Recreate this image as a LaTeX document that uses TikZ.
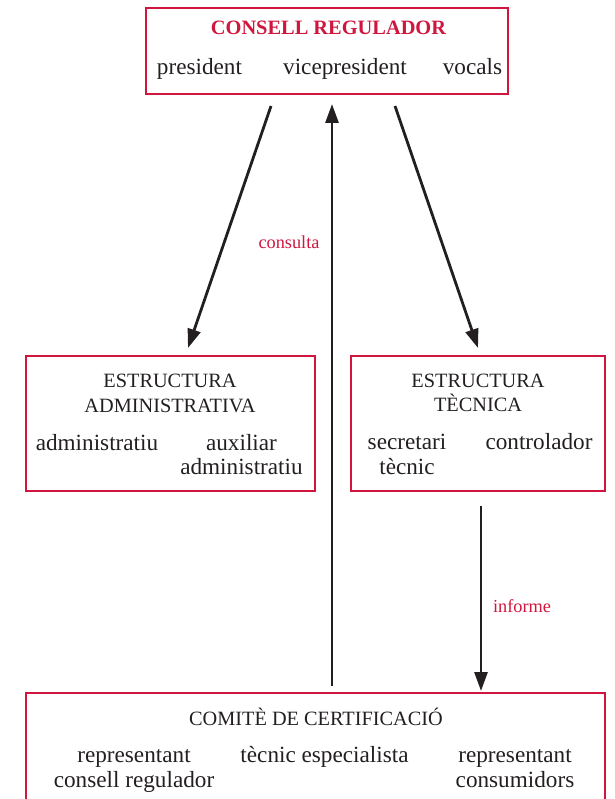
\documentclass[tikz,border=0pt]{standalone}
\usepackage{fontspec}
\setmainfont{Liberation Serif}
\usetikzlibrary{arrows.meta}
\definecolor{cred}{RGB}{208,22,62}
\definecolor{ctext}{RGB}{35,31,32}
\tikzset{
  box/.style={draw=cred, line width=2.6pt, rectangle, inner sep=0pt},
  body/.style={anchor=base, inner sep=0pt, text=ctext, font=\fontsize{23.2}{27}\selectfont},
  ttl/.style={anchor=base, inner sep=0pt, text=ctext, font=\fontsize{20.3}{24}\selectfont},
  lbl/.style={anchor=base, inner sep=0pt, text=cred, font=\fontsize{18.3}{21}\selectfont},
  arr/.style={draw=ctext, line width=2.8pt, -{Triangle[length=19pt,width=13pt]}},
}
\begin{document}
\begin{tikzpicture}[x=1pt,y=-1pt]
\useasboundingbox (0,0) rectangle (614,799);
% boxes
\node[box, minimum width=362pt, minimum height=86pt] (cr) at (327,51) {};
\node[box, minimum width=289pt, minimum height=135pt] (ea) at (170.5,423.5) {};
\node[box, minimum width=254pt, minimum height=135pt] (et) at (478,423.5) {};
\node[box, minimum width=579pt, minimum height=140pt] (cc) at (315.5,763) {};
% top box text
\node[anchor=base, inner sep=0pt, text=cred, font=\bfseries\fontsize{20.4}{24}\selectfont] (crt) at (328.5,35) {CONSELL REGULADOR};
\node[body] (p1) at (199.5,75) {president};
\node[body] (p2) at (345,75) {vicepresident};
\node[body] (p3) at (472.5,75) {vocals};
% left box
\node[ttl] (eat1) at (170,387) {ESTRUCTURA};
\node[ttl] (eat2) at (170,412) {ADMINISTRATIVA};
\node[body] (ea1) at (97,450) {administratiu};
\node[body] (ea2a) at (241.5,450) {auxiliar};
\node[body] (ea2b) at (241.5,474) {administratiu};
% right box
\node[ttl] (ett1) at (478,387) {ESTRUCTURA};
\node[ttl] (ett2) at (478,411) {TÈCNICA};
\node[body] (et1a) at (407,449) {secretari};
\node[body] (et1b) at (407,474) {tècnic};
\node[body] (et2) at (539,449) {controlador};
% bottom box
\node[ttl] (cct) at (316,725) {COMITÈ DE CERTIFICACIÓ};
\node[body] (cc1a) at (134,762) {representant};
\node[body] (cc1b) at (134,787) {consell regulador};
\node[body] (cc2) at (324.5,762) {tècnic especialista};
\node[body] (cc3a) at (515,762) {representant};
\node[body] (cc3b) at (515,787) {consumidors};
% connectors
\coordinate (s1) at (271,106);
\coordinate (e1) at (188,348);
\coordinate (s2) at (395,106);
\coordinate (e2) at (478,348);
\coordinate (s3) at (332,686);
\coordinate (e3) at (332,104);
\coordinate (s4) at (481,506);
\coordinate (e4) at (481,691);
\draw[arr] (s1) -- (e1);
\draw[arr] (s2) -- (e2);
\draw[arr] (s3) -- (e3);
\draw[arr] (s4) -- (e4);
\node[lbl] (lc) at (289,248) {consulta};
\node[lbl] (li) at (522,612) {informe};
\end{tikzpicture}
\end{document}
